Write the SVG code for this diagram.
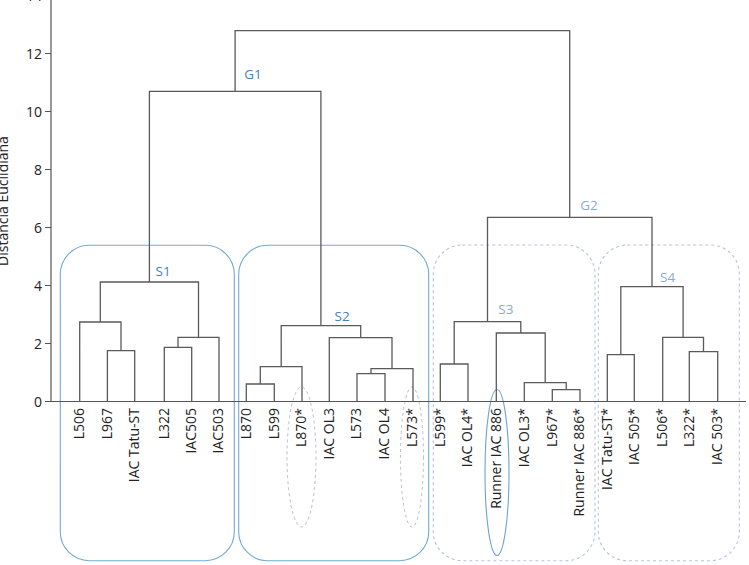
<svg xmlns="http://www.w3.org/2000/svg" width="749" height="565" viewBox="0 0 749 565">
<style>
  text { font-family: "Open Sans", "DejaVu Sans", sans-serif; fill: #222; }
  .leaf { font-size: 14px; text-anchor: end; }
  .tick { font-size: 14px; text-anchor: end; }
  .axlab { font-size: 14px; text-anchor: middle; }
  .dk { font-size: 13.5px; fill: #3f82c3; }
  .lt { font-size: 13.5px; fill: #8fa8d8; }
  .tree { fill: none; stroke: #5a5a5a; stroke-width: 1.3; }
  .axis { fill: none; stroke: #555; stroke-width: 1.2; }
  .boxs { fill: none; stroke: #74a9d4; stroke-width: 1.1; }
  .boxd { fill: none; stroke: #b4c3df; stroke-width: 1.1; stroke-dasharray: 3 3; }
  .elld { fill: none; stroke: #bcbccf; stroke-width: 1; stroke-dasharray: 3 3; }
  .ells { fill: none; stroke: #6ea3d0; stroke-width: 1.1; }
</style>
<rect width="749" height="565" fill="#fff"/>

<g id="groups">
  <rect id="box-S1" class="boxs" x="60.3" y="245.3" width="174" height="315.4" rx="29" ry="29"/>
  <rect id="box-S2" class="boxs" x="238.7" y="245.3" width="190" height="315.4" rx="29" ry="29"/>
  <rect id="box-S3" class="boxd" x="433.3" y="245" width="161.7" height="315.7" rx="29" ry="29"/>
  <rect id="box-S4" class="boxd" x="598.3" y="245" width="141" height="315.7" rx="29" ry="29"/>
  <ellipse id="ell-L870s" class="elld" cx="301.5" cy="457" rx="14.5" ry="70"/>
  <ellipse id="ell-L573s" class="elld" cx="412" cy="457" rx="11.5" ry="70"/>
  <ellipse id="ell-runner" class="ells" cx="497" cy="472.5" rx="12" ry="83"/>
</g>

<g id="axes">
  <path class="axis" d="M51 0 V401.5 M45 401.5 H746"/>
  <path class="axis" d="M45 401.5 H51 M45 343.5 H51 M45 285.5 H51 M45 227.5 H51 M45 169.5 H51 M45 111.5 H51 M45 53.5 H51"/>
  <text class="tick" x="42" y="406.5">0</text>
  <text class="tick" x="42" y="348.5">2</text>
  <text class="tick" x="42" y="290.5">4</text>
  <text class="tick" x="42" y="232.5">6</text>
  <text class="tick" x="42" y="174.5">8</text>
  <text class="tick" x="42" y="116.5">10</text>
  <text class="tick" x="42" y="58.5">12</text>
  <text class="tick" x="42" y="0.5">14</text>
  <text class="axlab" transform="translate(8,201) rotate(-90)">Distância Euclidiana</text>
</g>

<g id="connectors">
  <!-- S1 -->
  <path class="tree" d="M107.4 401.5 V350.7 H134.7 V401.5"/>
  <path class="tree" d="M79.7 401.5 V322 H121 V350.7"/>
  <path class="tree" d="M164.3 401.5 V347.3 H191.7 V401.5"/>
  <path class="tree" d="M178 347.3 V337.3 H219 V401.5"/>
  <path class="tree" d="M100.3 322 V282 H198.5 V337.3"/>
  <!-- S2 -->
  <path class="tree" d="M246.3 401.5 V384 H274.3 V401.5"/>
  <path class="tree" d="M260.3 384 V366.7 H302 V401.5"/>
  <path class="tree" d="M357 401.5 V373.7 H385 V401.5"/>
  <path class="tree" d="M371 373.7 V368.7 H413 V401.5"/>
  <path class="tree" d="M329.3 401.5 V337.7 H392 V368.7"/>
  <path class="tree" d="M281.2 366.7 V325.7 H360.7 V337.7"/>
  <!-- G1 -->
  <path class="tree" d="M149.4 282 V91.3 H320.9 V325.7"/>
  <!-- S3 -->
  <path class="tree" d="M440.3 401.5 V364 H468 V401.5"/>
  <path class="tree" d="M552.3 401.5 V389.7 H580 V401.5"/>
  <path class="tree" d="M524.3 401.5 V382.7 H566.2 V389.7"/>
  <path class="tree" d="M496.3 401.5 V333 H545.2 V382.7"/>
  <path class="tree" d="M454.2 364 V321.7 H520.8 V333"/>
  <!-- S4 -->
  <path class="tree" d="M607.3 401.5 V354.7 H634.3 V401.5"/>
  <path class="tree" d="M689.3 401.5 V351.7 H717.7 V401.5"/>
  <path class="tree" d="M662.7 401.5 V337.3 H703.5 V351.7"/>
  <path class="tree" d="M620.8 354.7 V286.7 H683.1 V337.3"/>
  <!-- G2 -->
  <path class="tree" d="M487.5 321.7 V217.3 H652 V286.7"/>
  <!-- root -->
  <path class="tree" d="M235.1 91.3 V30.7 H569.7 V217.3"/>
</g>

<g id="cluster-labels">
  <text id="lab-G1" class="dk" x="244.3" y="78.5">G1</text>
  <text id="lab-S1" class="dk" x="155.5" y="275.7">S1</text>
  <text id="lab-S2" class="dk" x="334.5" y="320.7">S2</text>
  <text id="lab-G2" class="lt" x="580.3" y="209.5">G2</text>
  <text id="lab-S3" class="lt" x="498.3" y="314">S3</text>
  <text id="lab-S4" class="lt" x="660" y="282.3">S4</text>
</g>

<g id="leaves">
  <g id="leaf-L506"><text class="leaf" transform="translate(84,408) rotate(-90)">L506</text></g>
  <g id="leaf-L967"><text class="leaf" transform="translate(111.6,408) rotate(-90)">L967</text></g>
  <g id="leaf-IACTatuST"><text class="leaf" transform="translate(139,408) rotate(-90)">IAC Tatu-ST</text></g>
  <g id="leaf-L322"><text class="leaf" transform="translate(168.5,408) rotate(-90)">L322</text></g>
  <g id="leaf-IAC505"><text class="leaf" transform="translate(196,408) rotate(-90)">IAC505</text></g>
  <g id="leaf-IAC503"><text class="leaf" transform="translate(223.2,408) rotate(-90)">IAC503</text></g>
  <g id="leaf-L870"><text class="leaf" transform="translate(250.5,408) rotate(-90)">L870</text></g>
  <g id="leaf-L599"><text class="leaf" transform="translate(278.5,408) rotate(-90)">L599</text></g>
  <g id="leaf-L870s"><text class="leaf" transform="translate(306.2,408) rotate(-90)">L870*</text></g>
  <g id="leaf-IACOL3"><text class="leaf" transform="translate(333.5,408) rotate(-90)">IAC OL3</text></g>
  <g id="leaf-L573"><text class="leaf" transform="translate(361.2,408) rotate(-90)">L573</text></g>
  <g id="leaf-IACOL4"><text class="leaf" transform="translate(389.2,408) rotate(-90)">IAC OL4</text></g>
  <g id="leaf-L573s"><text class="leaf" transform="translate(417.2,408) rotate(-90)">L573*</text></g>
  <g id="leaf-L599s"><text class="leaf" transform="translate(444.5,408) rotate(-90)">L599*</text></g>
  <g id="leaf-IACOL4s"><text class="leaf" transform="translate(472.2,408) rotate(-90)">IAC OL4*</text></g>
  <g id="leaf-Runner"><text class="leaf" transform="translate(500.5,408) rotate(-90)">Runner IAC 886</text></g>
  <g id="leaf-IACOL3s"><text class="leaf" transform="translate(528.5,408) rotate(-90)">IAC OL3*</text></g>
  <g id="leaf-L967s"><text class="leaf" transform="translate(556.5,408) rotate(-90)">L967*</text></g>
  <g id="leaf-Runners"><text class="leaf" transform="translate(584.2,408) rotate(-90)">Runner IAC 886*</text></g>
  <g id="leaf-IACTatuSTs"><text class="leaf" transform="translate(611.5,408) rotate(-90)">IAC Tatu-ST*</text></g>
  <g id="leaf-IAC505s"><text class="leaf" transform="translate(638.5,408) rotate(-90)">IAC 505*</text></g>
  <g id="leaf-L506s"><text class="leaf" transform="translate(666.9,408) rotate(-90)">L506*</text></g>
  <g id="leaf-L322s"><text class="leaf" transform="translate(693.5,408) rotate(-90)">L322*</text></g>
  <g id="leaf-IAC503s"><text class="leaf" transform="translate(721.9,408) rotate(-90)">IAC 503*</text></g>
</g>
</svg>
